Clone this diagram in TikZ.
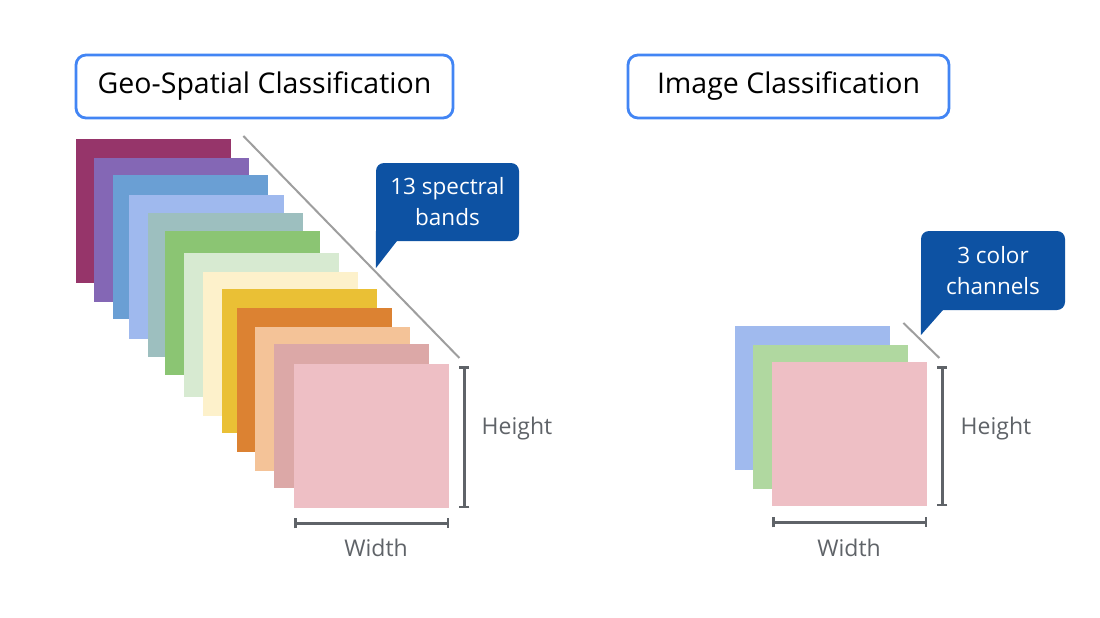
\documentclass[tikz,border=0pt]{standalone}
\usepackage{fontspec}
\setmainfont{Open Sans}
\usepackage{xcolor}
\usetikzlibrary{positioning, calc, arrows.meta}

% band colours
\definecolor{bandA}{HTML}{96356A}
\definecolor{bandB}{HTML}{8467B5}
\definecolor{bandC}{HTML}{6A9FD4}
\definecolor{bandD}{HTML}{9FB9EE}
\definecolor{bandE}{HTML}{9DBFBF}
\definecolor{bandF}{HTML}{8BC573}
\definecolor{bandG}{HTML}{D7EAD1}
\definecolor{bandH}{HTML}{FDF1CB}
\definecolor{bandI}{HTML}{EAC035}
\definecolor{bandJ}{HTML}{DC8232}
\definecolor{bandK}{HTML}{F4C398}
\definecolor{bandL}{HTML}{DCA8A7}
\definecolor{bandM}{HTML}{EEBFC5}
\definecolor{rgbBlue}{HTML}{A0BAEE}
\definecolor{rgbGreen}{HTML}{B0D8A0}
\definecolor{rgbRed}{HTML}{EEBFC5}
% other colours
\definecolor{titleblue}{HTML}{4285F4}
\definecolor{calloutblue}{HTML}{0D52A3}
\definecolor{dimgray}{HTML}{5F6368}
\definecolor{diaggray}{HTML}{9E9E9E}

\tikzset{
    band/.style={anchor=north west, inner sep=0pt, minimum width=155pt, minimum height=144pt},
    titlebox/.style={draw=titleblue, line width=2.8pt, rounded corners=10pt, fill=white,
        text=black, font=\fontsize{28.5}{32}\selectfont},
    callout/.style={fill=calloutblue, text=white, rounded corners=8pt, align=center,
        inner sep=0pt, font=\fontsize{22.5}{31}\selectfont},
    dim/.style={dimgray, line width=2.5pt, {Bar[width=10pt]}-{Bar[width=10pt]}},
    dimlabel/.style={text=dimgray, font=\fontsize{23}{28}\selectfont},
    diag/.style={diaggray, line width=2pt}
}

\begin{document}
\begin{tikzpicture}[x=1pt, y=-1pt]
    \useasboundingbox (0,0) rectangle (1100,618);

    % Geo-spatial side
    \node[titlebox, minimum width=377pt, minimum height=63pt] (geo) at (264.5,86.5) {Geo-Spatial Classification};

    % 13 bands
    \node[band, fill=bandA] (b1) at (76,139) {};
    \node[band, fill=bandB] (b2) at (94,158) {};
    \node[band, fill=bandC] (b3) at (113,175) {};
    \node[band, fill=bandD] (b4) at (129,195) {};
    \node[band, fill=bandE] (b5) at (148,213) {};
    \node[band, fill=bandF] (b6) at (165,231) {};
    \node[band, fill=bandG] (b7) at (184,253) {};
    \node[band, fill=bandH] (b8) at (203,272) {};
    \node[band, fill=bandI] (b9) at (222,289) {};
    \node[band, fill=bandJ] (b10) at (237,308) {};
    \node[band, fill=bandK] (b11) at (255,327) {};
    \node[band, fill=bandL] (b12) at (274,344) {};
    \node[band, fill=bandM] (b13) at (294,364) {};

    % Depth line
    \draw[diag] ($(b1.north east)+(12,-3)$) -- ($(b13.north east)+(10,-6)$);

    % Callout
    \node[callout, minimum width=143pt, minimum height=78pt] (bands) at (447.5,202) {13 spectral\\bands};
    \fill[calloutblue] ($(bands.south west)+(0,-10)$) -- ($(bands.south west)+(0,27)$)
        -- ($(bands.south west)+(21,0)$) -- ($(bands.south west)+(21,-10)$) -- cycle;

    % Height and width
    \draw[dim] ($(b13.north east)+(15,2)$) -- ($(b13.south east)+(15,0)$);
    \node[dimlabel] (geoh) at (517,429) {Height};
    \draw[dim] ($(b13.south west)+(0,15)$) -- ($(b13.south east)+(0,15)$);
    \node[dimlabel] (geow) at (376,548) {Width};

    % Image side
    \node[titlebox, minimum width=321pt, minimum height=63pt] (img) at (788.5,86.5) {Image Classification};

    % RGB channels
    \node[band, fill=rgbBlue] (c1) at (735,326) {};
    \node[band, fill=rgbGreen] (c2) at (753,345) {};
    \node[band, fill=rgbRed] (c3) at (772,362) {};

    % Depth line
    \draw[diag] ($(c1.north east)+(13,-3)$) -- ($(c3.north east)+(12,-4)$);

    % Callout
    \node[callout, minimum width=144pt, minimum height=79pt] (chan) at (993,270.5) {3 color\\channels};
    \fill[calloutblue] ($(chan.south west)+(0,-10)$) -- ($(chan.south west)+(0,25)$)
        -- ($(chan.south west)+(22,0)$) -- ($(chan.south west)+(22,-10)$) -- cycle;

    % Height and width
    \draw[dim] ($(c3.north east)+(15,4)$) -- ($(c3.south east)+(15,0)$);
    \node[dimlabel] (imgh) at (996,429) {Height};
    \draw[dim] ($(c3.south west)+(0,16)$) -- ($(c3.south east)+(0,16)$);
    \node[dimlabel] (imgw) at (849,548) {Width};
\end{tikzpicture}
\end{document}
